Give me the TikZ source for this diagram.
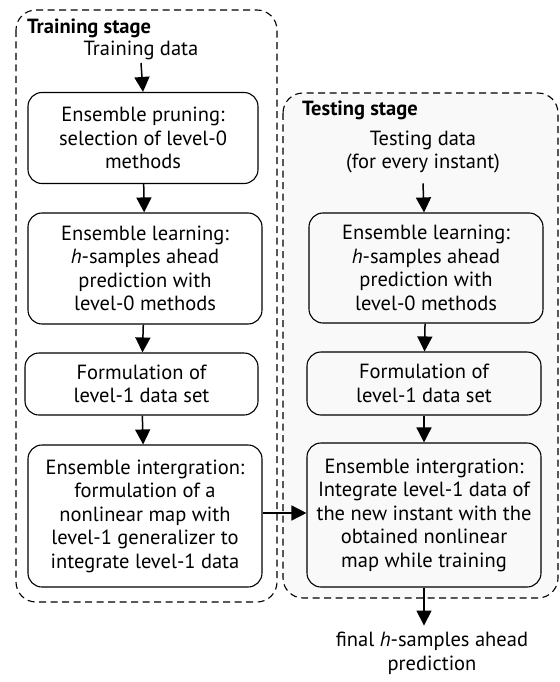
\documentclass[tikz,border=0pt]{standalone}
\usepackage{fontspec}
\setmainfont{PT Sans}
\usetikzlibrary{arrows.meta}
\begin{document}
\begin{tikzpicture}[x=1pt,y=-1pt,
  every node/.style={font=\fontsize{20.5}{23.5}\selectfont, inner sep=0pt},
  procbox/.style={draw, line width=1.1pt, rounded corners=14pt, align=center},
  stagebox/.style={draw, line width=1.1pt, dash pattern=on 7pt off 4.5pt, rounded corners=20pt},
  flow/.style={line width=1.5pt, -{Triangle[width=15pt,length=15pt]}},
  lbl/.style={align=center},
  stitle/.style={font=\fontsize{20.5}{23.5}\selectfont\bfseries, anchor=west}]
\useasboundingbox (0,0) rectangle (559,682);
% stage frames
\draw[stagebox, fill=gray!5] (283,93) rectangle (558,598);
\draw[stagebox] (16,10) rectangle (277,602);
% titles
\node[stitle] (trtitle) at (27,28) {Training stage};
\node[stitle] (tetitle) at (302,110) {Testing stage};
% training column
\node[lbl] (trdata) at (141,50) {Training data};
\node[procbox, minimum width=230pt, minimum height=91pt] (b1) at (143,138) {Ensemble pruning:\\selection of level-0\\methods};
\node[procbox, minimum width=234pt, minimum height=111pt] (b2) at (145,268.5) {Ensemble learning:\\\textit{h}-samples ahead\\prediction with\\level-0 methods};
\node[procbox, minimum width=233pt, minimum height=62pt] (b3) at (141.5,384) {Formulation of\\level-1 data set};
\node[procbox, minimum width=234pt, minimum height=142pt] (b4) at (145,516) {Ensemble intergration:\\formulation of a\\nonlinear map with\\level-1 generalizer to\\integrate level-1 data};
% testing column
\node[lbl] (tedata) at (423,152) {Testing data\\(for every instant)};
\node[procbox, minimum width=234pt, minimum height=110pt] (t1) at (426,268) {Ensemble learning:\\\textit{h}-samples ahead\\prediction with\\level-0 methods};
\node[procbox, minimum width=234pt, minimum height=63pt] (t2) at (424,383.5) {Formulation of\\level-1 data set};
\node[procbox, minimum width=234pt, minimum height=144pt] (t3) at (424,515) {Ensemble intergration:\\Integrate level-1 data of\\the new instant with the\\obtained nonlinear\\map while training};
\node[lbl] (final) at (432,653.5) {final \textit{h}-samples ahead\\prediction};
% connectors
\draw[flow] (141,63) -- (b1.north);
\draw[flow] (b1) -- (b2);
\draw[flow] (b2) -- (b3);
\draw[flow] (b3) -- (b4);
\draw[flow] ([yshift=-10pt]tedata.south) -- (t1);
\draw[flow] (t1) -- (t2);
\draw[flow] (t2) -- (t3);
\draw[flow] (t3.south) -- ++(0,38) coordinate (fend);
\draw[flow] (b4.east |- 0,513) -- (t3.west |- 0,513);
\end{tikzpicture}
\end{document}
